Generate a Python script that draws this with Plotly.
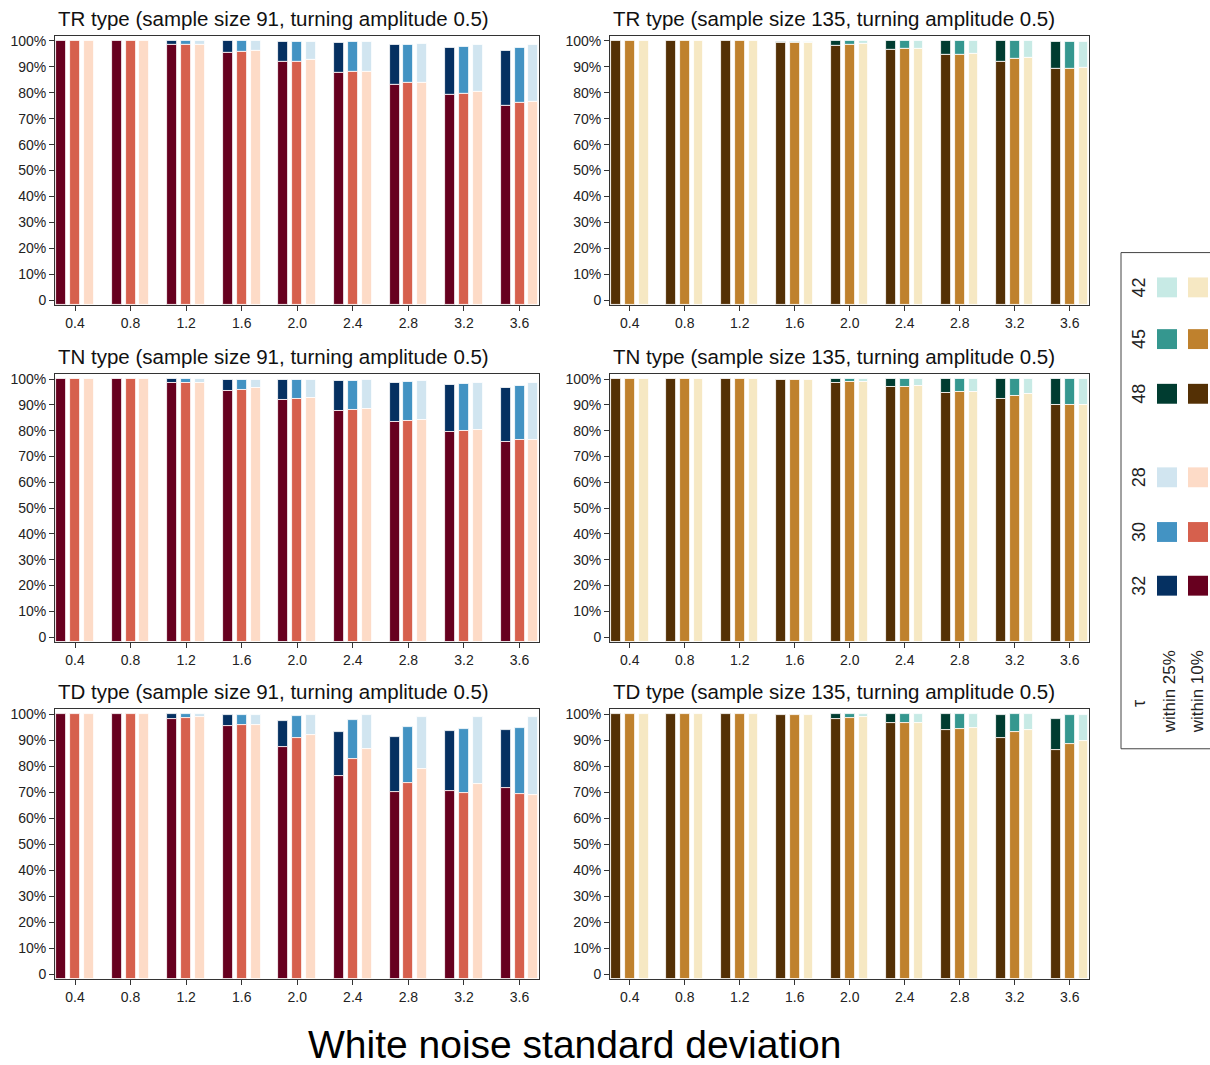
import plotly.graph_objects as go
from plotly.subplots import make_subplots

# ---------------- data ----------------
sd = [0.4, 0.8, 1.2, 1.6, 2.0, 2.4, 2.8, 3.2, 3.6]
sd_labels = ["0.4", "0.8", "1.2", "1.6", "2.0", "2.4", "2.8", "3.2", "3.6"]
y_ticks = [0, 10, 20, 30, 40, 50, 60, 70, 80, 90, 100]
y_labels = ["0", "10%", "20%", "30%", "40%", "50%", "60%", "70%", "80%", "90%", "100%"]

taus_91 = ["32", "30", "28"]
taus_135 = ["48", "45", "42"]

# TR type, sample size 91
tr91_w10_32 = [100, 100, 98.5, 95.5, 92.0, 87.6, 83.1, 79.2, 75.0]
tr91_w25_32 = [100, 100, 100, 100, 99.7, 99.4, 98.6, 97.4, 96.2]
tr91_w10_30 = [100, 100, 98.7, 95.9, 92.1, 88.0, 83.7, 79.6, 76.1]
tr91_w25_30 = [100, 100, 100, 99.9, 99.7, 99.5, 98.7, 97.8, 97.3]
tr91_w10_28 = [100, 100, 98.7, 96.4, 92.6, 88.1, 84.0, 80.3, 76.4]
tr91_w25_28 = [100, 100, 100, 99.9, 99.7, 99.6, 99.1, 98.6, 98.6]

# TN type, sample size 91
tn91_w10_32 = [100, 100, 98.5, 95.5, 92.1, 87.8, 83.3, 79.4, 75.5]
tn91_w25_32 = [100, 100, 100, 99.7, 99.7, 99.2, 98.7, 97.6, 96.4]
tn91_w10_30 = [100, 100, 98.7, 95.9, 92.2, 88.2, 83.8, 79.9, 76.4]
tn91_w25_30 = [100, 100, 100, 99.7, 99.7, 99.4, 98.9, 98.0, 97.3]
tn91_w10_28 = [100, 100, 98.7, 96.6, 92.6, 88.3, 84.3, 80.4, 76.6]
tn91_w25_28 = [100, 100, 100, 99.7, 99.7, 99.5, 99.1, 98.7, 98.6]

# TD type, sample size 91
td91_w10_32 = [100, 100, 98.3, 95.3, 87.4, 76.1, 70.0, 70.6, 71.5]
td91_w25_32 = [100, 100, 100, 99.7, 97.3, 93.2, 91.3, 93.7, 94.0]
td91_w10_30 = [100, 100, 98.5, 95.7, 90.7, 82.9, 73.4, 69.7, 69.3]
td91_w25_30 = [100, 100, 100, 99.7, 99.2, 97.8, 94.9, 94.5, 94.6]
td91_w10_28 = [100, 100, 98.9, 96.0, 92.0, 86.8, 78.9, 73.2, 69.1]
td91_w25_28 = [100, 100, 100, 99.7, 99.7, 99.6, 99.1, 98.9, 98.9]

# TR type, sample size 135
tr135_w10_48 = [100, 100, 100, 99.4, 98.3, 96.6, 94.5, 92.0, 89.4]
tr135_w25_48 = [100, 100, 100, 99.5, 100, 100, 100, 100, 99.7]
tr135_w10_45 = [100, 100, 100, 99.4, 98.7, 96.8, 94.7, 93.0, 89.2]
tr135_w25_45 = [100, 100, 100, 99.5, 100, 100, 100, 100, 99.7]
tr135_w10_42 = [100, 100, 100, 99.4, 99.1, 96.8, 94.9, 93.6, 89.5]
tr135_w25_42 = [100, 100, 100, 99.5, 100, 100, 100, 100, 99.7]

# TN type, sample size 135
tn135_w10_48 = [100, 100, 100, 99.6, 98.6, 97.0, 94.6, 92.3, 89.8]
tn135_w25_48 = [100, 100, 100, 99.6, 100, 100, 100, 100, 100]
tn135_w10_45 = [100, 100, 100, 99.6, 99.0, 97.1, 94.9, 93.4, 89.8]
tn135_w25_45 = [100, 100, 100, 99.6, 100, 100, 100, 100, 100]
tn135_w10_42 = [100, 100, 100, 99.6, 99.0, 97.3, 95.0, 94.1, 89.8]
tn135_w25_42 = [100, 100, 100, 99.6, 100, 100, 100, 100, 100]

# TD type, sample size 135
td135_w10_48 = [100, 100, 100, 99.6, 98.1, 96.6, 94.0, 90.9, 86.3]
td135_w25_48 = [100, 100, 100, 99.6, 100, 100, 100, 99.6, 98.1]
td135_w10_45 = [100, 100, 100, 99.6, 98.5, 96.7, 94.5, 93.0, 88.5]
td135_w25_45 = [100, 100, 100, 99.6, 100, 100, 100, 100, 99.6]
td135_w10_42 = [100, 100, 100, 99.6, 98.9, 96.8, 94.6, 93.9, 89.8]
td135_w25_42 = [100, 100, 100, 99.6, 100, 100, 100, 100, 99.7]

# ---------------- styling ----------------
FONT = "Liberation Sans, Arial, Helvetica, sans-serif"
W, H = 1210, 1065
blue_cols = ["#053061", "#4393c3", "#d1e5f0"]
red_cols = ["#67001f", "#d6604d", "#fddbc7"]
teal_cols = ["#003c30", "#35978f", "#c7eae5"]
brown_cols = ["#543005", "#bf812d", "#f6e8c3"]
offsets = [-0.1, 0.0, 0.1]
BAR_W = 0.072
YMIN, YMAX = -2, 102

panels = [
    (1, 1, "TR type (sample size 91, turning amplitude 0.5)",
     [(tr91_w10_32, tr91_w25_32), (tr91_w10_30, tr91_w25_30), (tr91_w10_28, tr91_w25_28)],
     red_cols, blue_cols),
    (1, 2, "TR type (sample size 135, turning amplitude 0.5)",
     [(tr135_w10_48, tr135_w25_48), (tr135_w10_45, tr135_w25_45), (tr135_w10_42, tr135_w25_42)],
     brown_cols, teal_cols),
    (2, 1, "TN type (sample size 91, turning amplitude 0.5)",
     [(tn91_w10_32, tn91_w25_32), (tn91_w10_30, tn91_w25_30), (tn91_w10_28, tn91_w25_28)],
     red_cols, blue_cols),
    (2, 2, "TN type (sample size 135, turning amplitude 0.5)",
     [(tn135_w10_48, tn135_w25_48), (tn135_w10_45, tn135_w25_45), (tn135_w10_42, tn135_w25_42)],
     brown_cols, teal_cols),
    (3, 1, "TD type (sample size 91, turning amplitude 0.5)",
     [(td91_w10_32, td91_w25_32), (td91_w10_30, td91_w25_30), (td91_w10_28, td91_w25_28)],
     red_cols, blue_cols),
    (3, 2, "TD type (sample size 135, turning amplitude 0.5)",
     [(td135_w10_48, td135_w25_48), (td135_w10_45, td135_w25_45), (td135_w10_42, td135_w25_42)],
     brown_cols, teal_cols),
]

# pixel layout of plot frames
col_px = {1: (55, 539), 2: (610, 1089)}
row_px = {1: (33, 304), 2: (373, 643), 3: (710, 982)}

fig = make_subplots(rows=3, cols=2)

for r, c, title, series, c10, c25 in panels:
    for k, (w10, w25) in enumerate(series):
        xs = [v + offsets[k] for v in sd]
        # within 25% segment (stacked above within-10%)
        fig.add_trace(go.Bar(
            x=xs, y=[b - a for a, b in zip(w10, w25)], base=w10,
            width=BAR_W, marker=dict(color=c25[k], line=dict(color="white", width=0.8)),
            showlegend=False, hoverinfo="skip"), row=r, col=c)
        # within 10% segment (from the bottom of the panel)
        fig.add_trace(go.Bar(
            x=xs, y=[a - YMIN for a in w10], base=YMIN,
            width=BAR_W, marker=dict(color=c10[k], line=dict(color="white", width=0.8)),
            showlegend=False, hoverinfo="skip"), row=r, col=c)

    x0, x1 = col_px[c]
    y0, y1 = row_px[r]
    fig.update_xaxes(domain=[x0 / W, x1 / W], range=[0.256, 3.74],
                     tickvals=sd, ticktext=sd_labels, ticks="outside", ticklen=5,
                     tickcolor="#333", showline=True, linecolor="#333", linewidth=1,
                     mirror=True, showgrid=False, zeroline=False,
                     tickfont=dict(size=14, color="#222", family=FONT), row=r, col=c)
    fig.update_yaxes(domain=[1 - y1 / H, 1 - y0 / H], range=[YMIN, YMAX],
                     tickvals=y_ticks, ticktext=y_labels, ticks="outside", ticklen=5,
                     tickcolor="#333", showline=True, linecolor="#333", linewidth=1,
                     mirror=True, showgrid=False, zeroline=False,
                     tickfont=dict(size=14, color="#222", family=FONT), row=r, col=c)
    fig.add_annotation(text=title, xref="paper", yref="paper",
                       x=(x0 + 1) / W, y=1 - (y0 - 4) / H, xanchor="left", yanchor="bottom",
                       showarrow=False, font=dict(size=20.5, color="#111", family=FONT))

# x-axis title
fig.add_annotation(text="White noise standard deviation", xref="paper", yref="paper",
                   x=574 / W, y=1 - 1047 / H, xanchor="center", yanchor="middle",
                   showarrow=False, font=dict(size=39, color="#000", family=FONT))

# ---------------- legend (drawn manually) ----------------
shapes = [dict(type="rect", xref="paper", yref="paper",
               x0=1121 / W, x1=1216 / W, y0=1 - 750 / H, y1=1 - 251 / H,
               line=dict(color="#444", width=1), fillcolor="rgba(0,0,0,0)")]
legend_rows = [
    ("42", 286, teal_cols[2], brown_cols[2]),
    ("45", 338, teal_cols[1], brown_cols[1]),
    ("48", 393, teal_cols[0], brown_cols[0]),
    ("28", 477, blue_cols[2], red_cols[2]),
    ("30", 532, blue_cols[1], red_cols[1]),
    ("32", 586, blue_cols[0], red_cols[0]),
]
for label, yc, c25, c10 in legend_rows:
    fig.add_annotation(text=label, xref="paper", yref="paper", x=1139 / W, y=1 - yc / H,
                       xanchor="center", yanchor="middle", textangle=-90, showarrow=False,
                       font=dict(size=18, color="#222", family=FONT))
    for xc, col in [(1167, c25), (1198, c10)]:
        shapes.append(dict(type="rect", xref="paper", yref="paper",
                           x0=(xc - 10) / W, x1=(xc + 10) / W,
                           y0=1 - (yc + 10) / H, y1=1 - (yc - 10) / H,
                           line=dict(width=0), fillcolor=col))

fig.add_annotation(text="τ", xref="paper", yref="paper", x=1139 / W, y=1 - 705 / H,
                   xanchor="center", yanchor="middle", textangle=-90, showarrow=False,
                   font=dict(size=18, color="#222", family=FONT))
for txt, xc in [("within 25%", 1169), ("within 10%", 1197)]:
    fig.add_annotation(text=txt, xref="paper", yref="paper", x=xc / W, y=1 - 737 / H,
                       xanchor="center", yanchor="bottom", textangle=-90, showarrow=False,
                       font=dict(size=17, color="#222", family=FONT))

fig.update_layout(
    width=W, height=H, margin=dict(l=0, r=0, t=0, b=0),
    barmode="overlay", bargap=0,
    paper_bgcolor="white", plot_bgcolor="white",
    shapes=shapes, showlegend=False,
    font=dict(family=FONT),
)

fig.write_html("out.html", config={"displayModeBar": False},
               post_script="document.body.style.margin='0';document.body.style.padding='0';document.body.style.overflow='hidden';")
